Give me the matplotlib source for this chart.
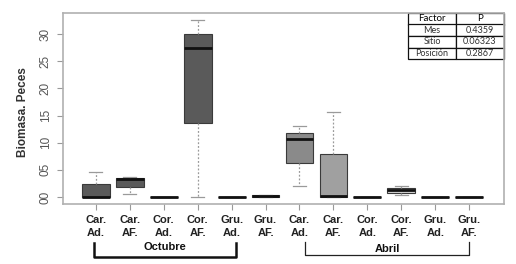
import numpy as np
import matplotlib.pyplot as plt
from matplotlib.transforms import blended_transform_factory

plt.rcParams['font.family'] = ['Liberation Sans', 'DejaVu Sans']

# Datos (Biomasa peces por sitio/posicion y mes)
labels = ['Car.\nAd.', 'Car.\nAF.', 'Cor.\nAd.', 'Cor.\nAF.', 'Gru.\nAd.', 'Gru.\nAF.',
          'Car.\nAd.', 'Car.\nAF.', 'Cor.\nAd.', 'Cor.\nAF.', 'Gru.\nAd.', 'Gru.\nAF.']
whislo = [0.0, 0.55, 0.0, 0.0, 0.0, 0.0, 2.0, 0.0, 0.0, 0.3, 0.0, 0.0]
q1 = [0.0, 1.9, 0.0, 13.7, 0.0, 0.05, 6.3, 0.0, 0.0, 0.7, 0.0, 0.0]
med = [0.0, 3.25, 0.0, 27.4, 0.0, 0.15, 10.6, 0.15, 0.0, 1.2, 0.0, 0.0]
q3 = [2.35, 3.45, 0.0, 30.0, 0.0, 0.3, 11.75, 7.9, 0.0, 1.65, 0.0, 0.0]
whishi = [4.55, 3.6, 0.0, 32.6, 0.0, 0.35, 13.0, 15.7, 0.0, 2.0, 0.0, 0.0]
colores = ['#5a5a5a'] * 6 + ['#8a8a8a', '#a0a0a0', '#5a5a5a', '#d4d4d4', '#5a5a5a', '#5a5a5a']

tabla = [['Factor', 'P'], ['Mes', '0.4359'], ['Sitio', '0.06323'], ['Posición', '0.2867']]

fig = plt.figure(figsize=(5.16, 2.64), dpi=100)
ax = fig.add_axes([0.122, 0.227, 0.855, 0.724])

stats = []
for i in range(len(labels)):
    stats.append(dict(whislo=whislo[i], q1=q1[i], med=med[i], q3=q3[i],
                      whishi=whishi[i], fliers=[]))

bp = ax.bxp(stats, positions=np.arange(1, 13), widths=0.82, capwidths=0.38,
            patch_artist=True,
            boxprops=dict(edgecolor='#3a3a3a', linewidth=0.8),
            medianprops=dict(color='#111111', linewidth=2),
            whiskerprops=dict(color='#9a9a9a', linewidth=0.9, linestyle=(0, (1.5, 1.5))),
            capprops=dict(color='#9a9a9a', linewidth=0.9))
for caja, c in zip(bp['boxes'], colores):
    caja.set_facecolor(c)

ax.set_xlim(0.03, 13.03)
ax.set_ylim(-1.3, 33.9)
ax.set_xticks(np.arange(1, 13))
ax.set_xticklabels(labels, fontsize=8, fontweight='bold', color='#222222',
                   linespacing=1.3)
ax.set_yticks([0, 5, 10, 15, 20, 25, 30])
ax.set_yticklabels(['00', '05', '10', '15', '20', '25', '30'], rotation=90,
                   va='center', fontsize=8.5, color='#555555')
ax.tick_params(axis='both', colors='#999999', length=4, width=0.8)
ax.tick_params(axis='x', labelcolor='#222222', pad=4)
ax.tick_params(axis='y', labelcolor='#555555', pad=4)
for s in ax.spines.values():
    s.set_color('#b0b0b0')
    s.set_linewidth(1.2)

fig.text(0.045, 0.575, 'Biomasa. Peces', rotation=90, ha='center', va='center',
         fontsize=8.5, fontweight='bold', color='#333333')

# Corchetes de meses
tr = blended_transform_factory(ax.transData, fig.transFigure)
ax.plot([0.94, 0.94, 5.12, 5.12], [0.0795, 0.0265, 0.0265, 0.0795], color='#111111',
        lw=1.8, transform=tr, clip_on=False)
ax.plot([7.15, 7.15, 12.0, 12.0], [0.083, 0.034, 0.034, 0.083], color='#222222',
        lw=0.9, transform=tr, clip_on=False)
ax.text(3.04, 0.064, 'Octubre', transform=tr, ha='center', va='center',
        fontsize=8, fontweight='bold', color='#111111')
ax.text(9.58, 0.058, 'Abril', transform=tr, ha='center', va='center',
        fontsize=8, fontweight='bold', color='#111111')

# Tabla de valores P
t = ax.table(cellText=tabla, cellLoc='center', colWidths=[0.5, 0.5],
             bbox=[408 / 516, 1 - 59 / 264, 96 / 516, 46 / 264],
             transform=fig.transFigure)
t.auto_set_font_size(False)
for (r, c), celda in t.get_celld().items():
    celda.set_linewidth(0.9)
    celda.set_edgecolor('#111111')
    celda.get_text().set_fontsize(6.5)
    celda.get_text().set_fontfamily('Lato')
    celda.get_text().set_color('#333333')
    if r == 0:
        celda.get_text().set_fontsize(7)
        celda.get_text().set_color('#000000')

fig.savefig('out.png', dpi=100)
